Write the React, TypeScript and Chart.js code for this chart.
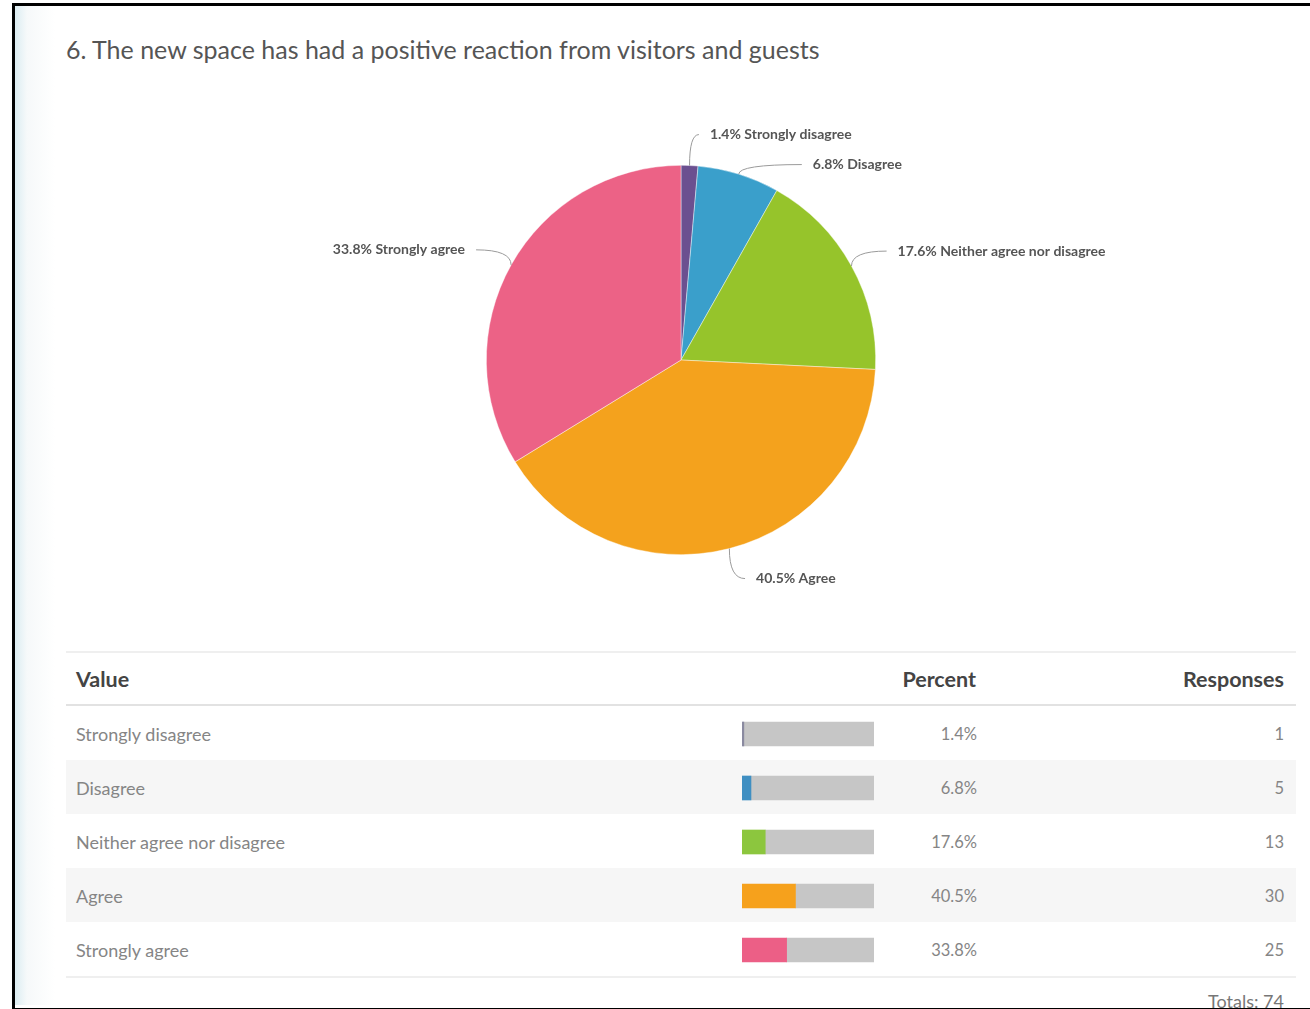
import React, { useEffect, useRef } from "react";
import { Chart, registerables } from "chart.js";

Chart.register(...registerables);

const title = "6. The new space has had a positive reaction from visitors and guests";
const categories = ["Strongly disagree", "Disagree", "Neither agree nor disagree", "Agree", "Strongly agree"];
const percents = [1.4, 6.8, 17.6, 40.5, 33.8];
const responses = [1, 5, 13, 30, 25];
const totalResponses = 74;
const pieColors = ["#6b5090", "#3a9fcb", "#96c42b", "#f4a21d", "#ec6286"];
const barColors = ["#8a8aa0", "#3f8fc2", "#8cc63e", "#f6a11c", "#ec5f86"];
const remainderColor = "#c6c6c6";
const headers = ["Value", "Percent", "Responses"];

const FONT = "Lato, 'Open Sans', sans-serif";

const pieLabelPlugin = {
  id: "pieLabels",
  afterDatasetsDraw(chart: any) {
    const ctx = chart.ctx;
    const meta = chart.getDatasetMeta(0);
    const items = meta.data.map((arc: any, i: number) => {
      const p = arc.getProps(["x", "y", "startAngle", "endAngle", "outerRadius"], true);
      const a = (p.startAngle + p.endAngle) / 2;
      const R = p.outerRadius + 31;
      return {
        i,
        a,
        cx: p.x,
        cy: p.y,
        r: p.outerRadius,
        R,
        right: Math.cos(a) >= 0,
        ly: p.y + R * Math.sin(a),
      };
    });
    for (const side of [true, false]) {
      const list = items.filter((it: any) => it.right === side).sort((p: any, q: any) => p.ly - q.ly);
      for (let k = 1; k < list.length; k++) {
        if (list[k].ly - list[k - 1].ly < 30) list[k].ly = list[k - 1].ly + 30;
      }
    }
    ctx.save();
    ctx.font = `bold 14px ${FONT}`;
    ctx.textBaseline = "middle";
    ctx.strokeStyle = "#9a9a9a";
    ctx.lineWidth = 1;
    ctx.fillStyle = "#555";
    items.forEach((it: any) => {
      const dy = it.ly - it.cy;
      const dx = Math.sqrt(Math.max(it.R * it.R - dy * dy, 0));
      const sgn = it.right ? 1 : -1;
      const lx = it.cx + sgn * dx;
      const p0x = it.cx + it.r * Math.cos(it.a);
      const p0y = it.cy + it.r * Math.sin(it.a);
      const p2x = lx + sgn * 8;
      ctx.beginPath();
      ctx.moveTo(p0x, p0y);
      ctx.quadraticCurveTo(p0x, it.ly, p2x, it.ly);
      ctx.stroke();
      ctx.textAlign = it.right ? "left" : "right";
      ctx.fillText(`${percents[it.i]}% ${categories[it.i]}`, lx + sgn * 19, it.ly);
    });
    ctx.restore();
  },
};

const ROW_TOP = 706;
const ROW_H = 54;

export default function App() {
  const pieRef = useRef<HTMLCanvasElement>(null);
  const barRef = useRef<HTMLCanvasElement>(null);

  useEffect(() => {
    const pie = new Chart(pieRef.current as HTMLCanvasElement, {
      type: "pie",
      data: {
        labels: categories,
        datasets: [
          {
            data: percents,
            backgroundColor: pieColors,
            borderColor: "rgba(255,255,255,0.6)",
            borderWidth: 0.7,
            hoverOffset: 0,
          },
        ],
      },
      options: {
        animation: false,
        responsive: false,
        maintainAspectRatio: false,
        layout: { padding: { top: 65, bottom: 65, left: 186, right: 254 } },
        plugins: { legend: { display: false }, tooltip: { enabled: false } },
      },
      plugins: [pieLabelPlugin],
    });

    const bars = new Chart(barRef.current as HTMLCanvasElement, {
      type: "bar",
      data: {
        labels: categories,
        datasets: [
          { data: percents, backgroundColor: barColors, barThickness: 24, stack: "s" },
          { data: percents.map((p) => 100 - p), backgroundColor: remainderColor, barThickness: 24, stack: "s" },
        ],
      },
      options: {
        indexAxis: "y",
        animation: false,
        responsive: false,
        maintainAspectRatio: false,
        layout: { padding: 0 },
        plugins: { legend: { display: false }, tooltip: { enabled: false } },
        scales: {
          x: { display: false, stacked: true, min: 0, max: 100 },
          y: { display: false, stacked: true },
        },
      },
    });

    return () => {
      pie.destroy();
      bars.destroy();
    };
  }, []);

  const textBase: React.CSSProperties = {
    position: "absolute",
    fontFamily: FONT,
    whiteSpace: "nowrap",
    lineHeight: 1,
  };

  return (
    <div style={{ position: "fixed", left: 0, top: 0, width: 1310, height: 1009, background: "#fff", overflow: "hidden" }}>
      {/* left faint gradient */}
      <div style={{ position: "absolute", left: 15, top: 5, width: 40, height: 1000, background: "linear-gradient(to right, #dcedf2, #f6f9fa 30%, #ffffff)" }} />
      {/* title */}
      <div style={{ ...textBase, left: 66, top: 37, fontSize: 25, color: "#555" }}>{title}</div>

      <canvas ref={pieRef} width={830} height={520} style={{ position: "absolute", left: 300, top: 100, width: 830, height: 520 }} />

      {/* table lines */}
      <div style={{ position: "absolute", left: 66, top: 651, width: 1230, height: 2, background: "#efefef" }} />
      <div style={{ position: "absolute", left: 66, top: 704, width: 1230, height: 2, background: "#e2e2e2" }} />
      {[1, 3].map((i) => (
        <div key={i} style={{ position: "absolute", left: 66, top: ROW_TOP + i * ROW_H, width: 1230, height: ROW_H, background: "#f6f6f6" }} />
      ))}
      <div style={{ position: "absolute", left: 66, top: 976, width: 1230, height: 2, background: "#efefef" }} />

      {/* header */}
      <div style={{ ...textBase, left: 76, top: 669, fontSize: 21.5, fontWeight: 700, color: "#444" }}>{headers[0]}</div>
      <div style={{ ...textBase, right: 1310 - 976, top: 669, fontSize: 21.5, fontWeight: 700, color: "#444" }}>{headers[1]}</div>
      <div style={{ ...textBase, right: 1310 - 1284, top: 669, fontSize: 21.5, fontWeight: 700, color: "#444" }}>{headers[2]}</div>

      {categories.map((c, i) => {
        const top = ROW_TOP + i * ROW_H + 19;
        return (
          <React.Fragment key={c}>
            <div style={{ ...textBase, left: 76, top, fontSize: 18, color: "#858585" }}>{c}</div>
            <div style={{ ...textBase, right: 1310 - 977, top: top + 1, fontSize: 16.5, color: "#858585" }}>{percents[i]}%</div>
            <div style={{ ...textBase, right: 1310 - 1284, top: top + 1, fontSize: 16.5, color: "#858585" }}>{responses[i]}</div>
          </React.Fragment>
        );
      })}

      <canvas ref={barRef} width={132} height={270} style={{ position: "absolute", left: 742, top: 707, width: 132, height: 270 }} />

      <div style={{ ...textBase, right: 1310 - 1284, top: 992, fontSize: 18, color: "#777" }}>Totals: {totalResponses}</div>

      {/* frame */}
      <div style={{ position: "absolute", left: 12, top: 3, width: 1310, height: 1002, borderLeft: "3px solid #000", borderTop: "3px solid #000", borderBottom: "3px solid #000" }} />
    </div>
  );
}
